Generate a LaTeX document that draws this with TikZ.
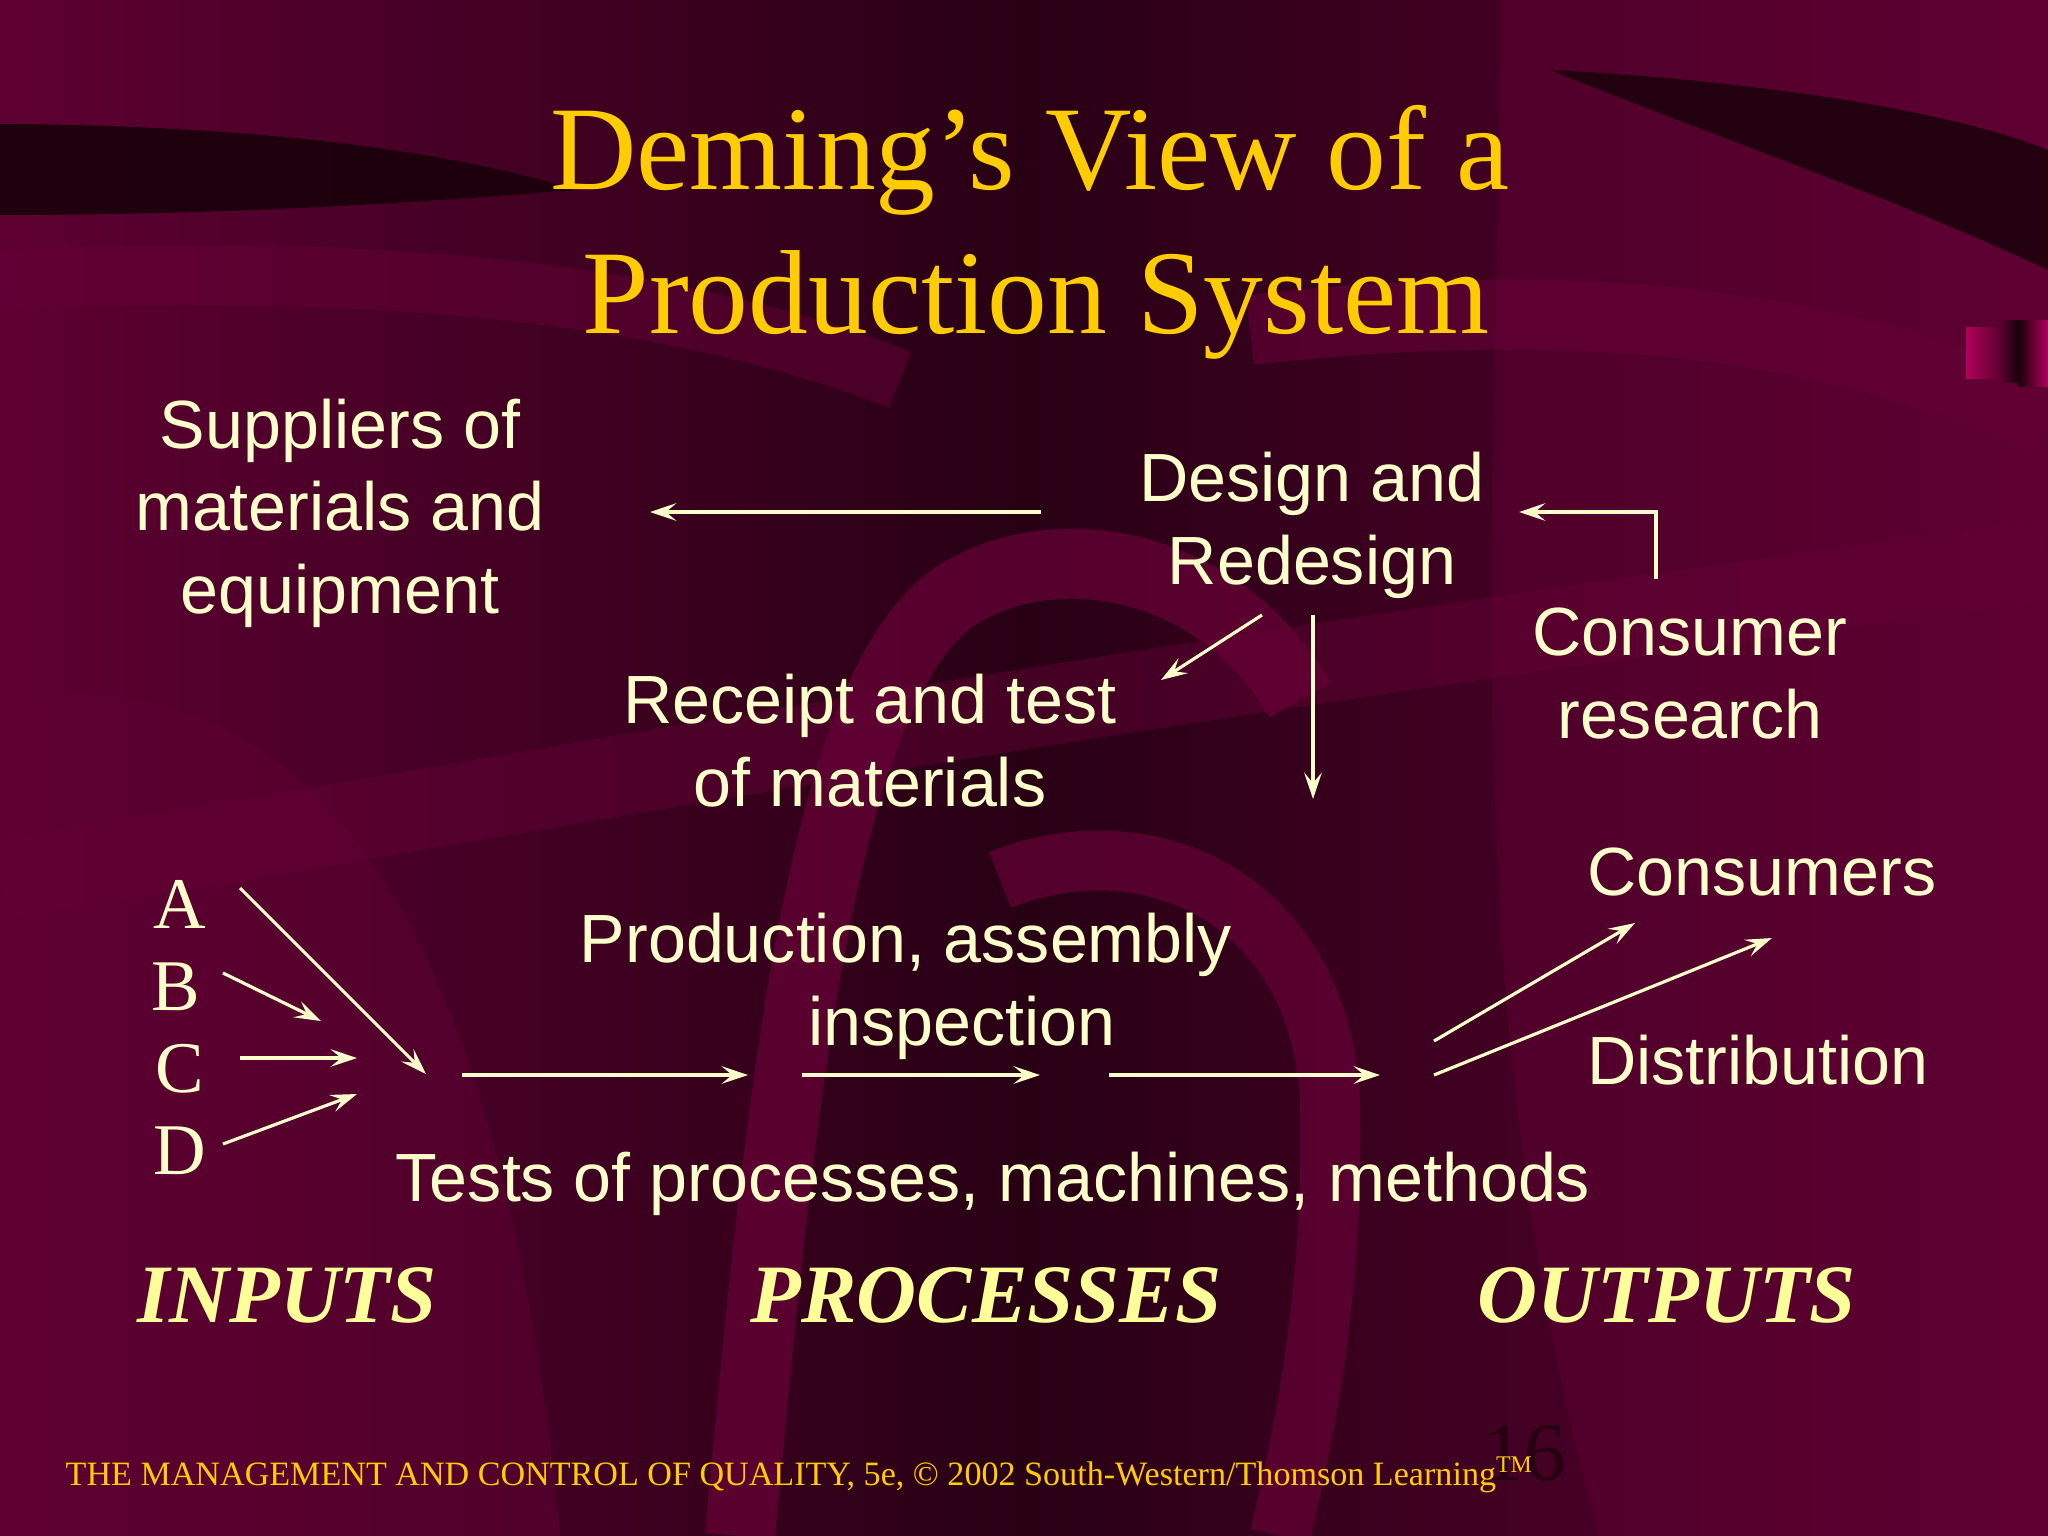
\documentclass[tikz,border=0pt]{standalone}
\usepackage{fontspec}
\setmainfont{Liberation Serif}
\newfontfamily\arialf{Liberation Sans}
\usetikzlibrary{arrows.meta,fadings}
\definecolor{bgbase}{RGB}{94,0,50}
\definecolor{bgdark}{RGB}{40,0,20}
\definecolor{bgblack}{RGB}{26,0,10}
\definecolor{ribbon}{RGB}{102,0,54}
\definecolor{cream}{RGB}{255,255,204}
\definecolor{gold}{RGB}{255,204,0}
\definecolor{paleyel}{RGB}{255,255,153}
\definecolor{pgnum}{RGB}{38,0,16}
\definecolor{magbox}{RGB}{175,0,90}
\begin{document}
\begin{tikzpicture}[x=0.01cm,y=-0.01cm,
  body/.style={text=cream, font=\arialf\fontsize{19.4}{23.4}\selectfont, align=center, inner sep=0pt, anchor=base},
  ttl/.style={text=gold, font=\fontsize{34}{41}\selectfont, align=center, inner sep=0pt, anchor=base},
  letter/.style={text=cream, font=\fontsize{20.7}{24}\selectfont, inner sep=0pt, anchor=base},
  head/.style={text=paleyel, font=\bfseries\itshape\fontsize{23.6}{28}\selectfont, inner sep=0pt, anchor=base},
  arr/.style={draw=cream, line width=0.9pt, -{Stealth[length=7.5pt,width=5pt,inset=3pt]}},
  rib/.style={draw=ribbon, line cap=butt},
]
% ---------- background ----------
\useasboundingbox (0,0) rectangle (2048,1536);
\shade[left color=bgbase, right color=bgbase, middle color=bgdark] (0,0) rectangle (2048,1536);
\fill[bgbase, opacity=0.55] (0,700) .. controls (300,650) and (500,900) .. (560,1536) -- (0,1536) -- cycle;
\fill[bgbase, opacity=0.5] (1500,0) -- (2048,0) -- (2048,1536) -- (1600,1536) .. controls (1450,1000) and (1500,500) .. (1500,0);
% ribbons
\draw[rib, line width=0.8cm, opacity=0.45] (0,880) .. controls (500,800) and (1000,700) .. (2048,560);
\draw[rib, line width=0.7cm, opacity=0.75] (740,1536) .. controls (780,1100) and (820,700) .. (950,600) .. controls (1050,530) and (1220,560) .. (1300,700);
\draw[rib, line width=0.6cm, opacity=0.7] (1000,880) .. controls (1150,820) and (1320,900) .. (1330,1100) .. controls (1335,1300) and (1300,1450) .. (1280,1536);
\draw[rib, line width=0.7cm, opacity=0.6] (1250,330) .. controls (1600,290) and (1850,330) .. (2048,420);
\draw[rib, line width=0.6cm, opacity=0.5] (0,280) .. controls (400,260) and (700,300) .. (900,380);
% dark swooshes
\fill[bgblack, opacity=0.9] (0,124) .. controls (250,125) and (450,150) .. (575,190) .. controls (450,200) and (250,215) .. (0,215) -- cycle;
\fill[bgblack, opacity=0.85] (1550,70) .. controls (1750,80) and (1950,110) .. (2048,150) -- (2048,270) .. controls (1900,200) and (1750,150) .. (1550,70);
% small decorative block at right edge
\shade[left color=magbox, right color=bgbase] (1966,327) rectangle (2000,378);
\shade[left color=bgbase, right color=bgblack] (2000,320) rectangle (2018,382);
\shade[left color=bgblack, right color=magbox] (2018,320) rectangle (2048,386);

% ---------- title ----------
\node[ttl] (title1) at (1030,189) {Deming’s View of a};
\node[ttl] (title2) at (1036,333) {Production System};

% ---------- text nodes (anchor = baseline of last line) ----------
\node[body] (supp) at (340,613) {Suppliers of\\materials and\\equipment};
\node[body] (design) at (1312,584) {Design and\\Redesign};
\node[body] (consres) at (1690,738) {Consumer\\research};
\node[body] (receipt) at (870,806) {Receipt and test\\of materials};
\node[body] (consumers) at (1762,895) {Consumers};
\node[body] (prod) at (906,1045) {Production, assembly\\\hspace*{1.12cm}inspection};
\node[body] (distr) at (1758,1084) {Distribution};
\node[body] (tests) at (993,1201) {Tests of processes, machines, methods};

\node[letter] (A) at (180,928) {A};
\node[letter] (B) at (176,1010) {B};
\node[letter] (C) at (180,1092) {C};
\node[letter] (D) at (180,1174) {D};

\node[head] (inputs) at (287,1322) {INPUTS};
\node[head] (processes) at (986,1322) {PROCESSES};
\node[head] (outputs) at (1667,1322) {OUTPUTS};

% ---------- footer ----------
\node[text=pgnum, font=\fontsize{23.6}{28}\selectfont, inner sep=0pt, anchor=base] (pgno) at (1524,1480) {16};
\node[text=gold, font=\fontsize{9.7}{12}\selectfont, inner sep=0pt, anchor=base west] (footer) at (65,1485)
  {THE MANAGEMENT AND CONTROL OF QUALITY, 5e, \textcopyright\ 2002 South-Western/Thomson Learning\textsuperscript{TM}};

% ---------- connector end points ----------
\coordinate (dsgL) at (1041,512);
\coordinate (suppR) at (650,512);
\coordinate (crTop) at (1656,579);
\coordinate (crCorner) at (1656,512);
\coordinate (dsgR) at (1519,512);
\coordinate (dsgBL) at (1262,615);
\coordinate (rcptTR) at (1161,680);
\coordinate (dsgB) at (1313,615);
\coordinate (dsgDown) at (1313,799);
\coordinate (aS) at (240,888);  \coordinate (aE) at (426,1074);
\coordinate (bS) at (223,973);  \coordinate (bE) at (321,1021);
\coordinate (cS) at (240,1058); \coordinate (cE) at (357,1058);
\coordinate (dS) at (223,1144); \coordinate (dE) at (357,1094);
\coordinate (p1S) at (462,1075); \coordinate (p1E) at (748,1075);
\coordinate (p2S) at (802,1075); \coordinate (p2E) at (1040,1075);
\coordinate (p3S) at (1109,1075); \coordinate (p3E) at (1380,1075);
\coordinate (o1S) at (1434,1041); \coordinate (o1E) at (1635,923);
\coordinate (o2S) at (1434,1075); \coordinate (o2E) at (1772,938);

% ---------- connectors ----------
\draw[arr] (dsgL) -- (suppR);
\draw[arr] (crTop) -- (crCorner) -- (dsgR);
\draw[arr] (dsgBL) -- (rcptTR);
\draw[arr] (dsgB) -- (dsgDown);
\draw[arr] (aS) -- (aE);
\draw[arr] (bS) -- (bE);
\draw[arr] (cS) -- (cE);
\draw[arr] (dS) -- (dE);
\draw[arr] (p1S) -- (p1E);
\draw[arr] (p2S) -- (p2E);
\draw[arr] (p3S) -- (p3E);
\draw[arr] (o1S) -- (o1E);
\draw[arr] (o2S) -- (o2E);
\end{tikzpicture}
\end{document}
